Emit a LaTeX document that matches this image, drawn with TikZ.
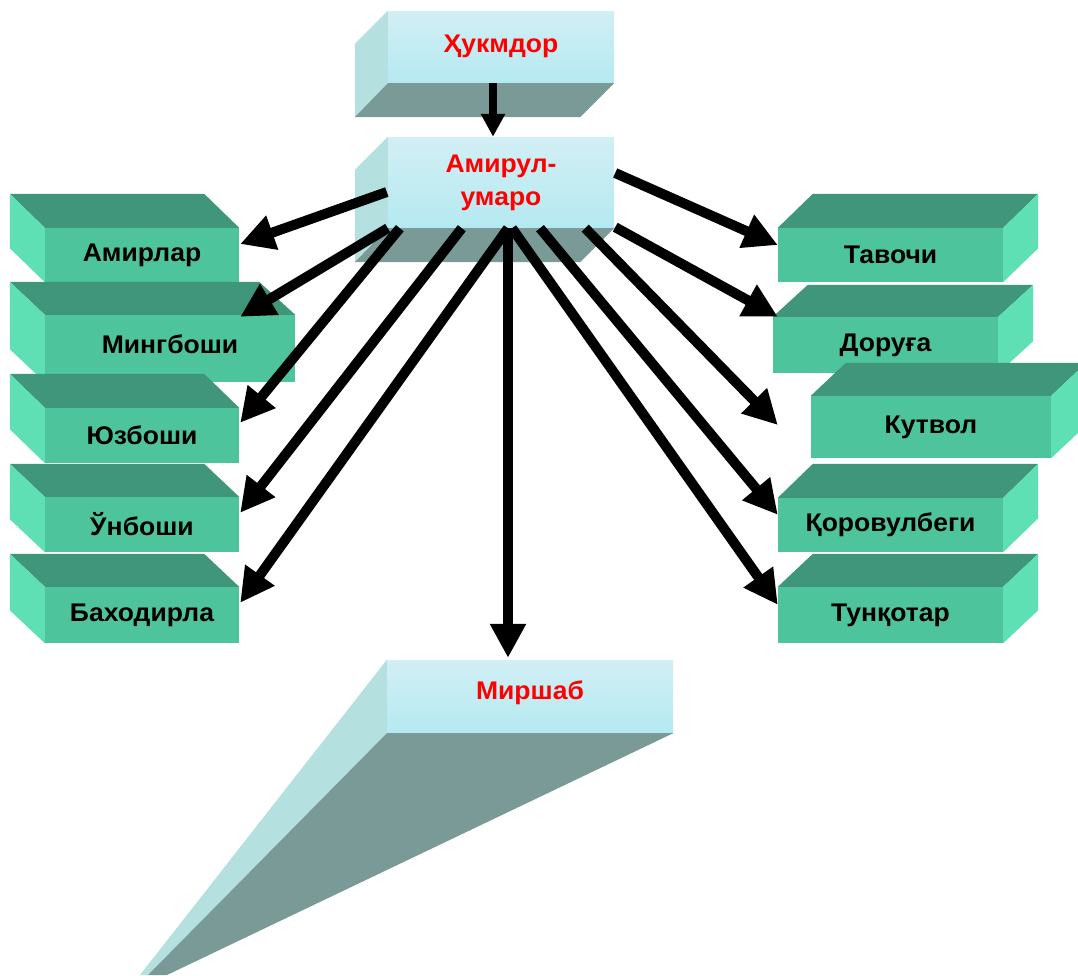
\documentclass[tikz,border=0pt]{standalone}
\usepackage{fontspec}
\setmainfont{Liberation Sans}
\newfontfamily\boxfont[FakeStretch=1.04]{Liberation Sans}
\usetikzlibrary{arrows.meta,calc}
\definecolor{boxfront}{RGB}{78,196,156}
\definecolor{boxtop}{RGB}{63,150,122}
\definecolor{boxside}{RGB}{94,224,180}
\definecolor{icefront}{RGB}{190,232,240}
\definecolor{iceside}{RGB}{180,224,224}
\definecolor{icebottom}{RGB}{122,154,152}

\begin{document}
\begin{tikzpicture}[x=1pt, y=-1pt,
      gbox/.style={fill=boxfront, inner sep=0pt, text=black, font=\boxfont\bfseries\fontsize{25.5}{30}\selectfont},
      ibox/.style={inner sep=0pt, top color=icefront!70!white, bottom color=icefront!95!cyan, text=red, align=center, font=\boxfont\bfseries\fontsize{25.5}{33}\selectfont},
      arr/.style={line width=10pt, -{Triangle[length=34pt, width=34pt]}},
      toparr/.style={line width=8pt, -{Triangle[length=23pt, width=23pt]}}
    ]
      \useasboundingbox (0,0) rectangle (1078,975);

      % Hukmdor
      \node[ibox, minimum width=226pt, minimum height=72pt] (hukm) at (501,47) {\raisebox{7pt}{Ҳукмдор}};
      \fill[iceside] (hukm.north west) -- ++(-33,33) -- ($(hukm.south west)+(-33,34)$) -- (hukm.south west) -- cycle;
      \fill[icebottom] (hukm.south west) -- (hukm.south east) -- ++(-34,34) -- ($(hukm.south west)+(-33,34)$) -- cycle;

      % Amirul-umaro
      \node[ibox, minimum width=226pt, minimum height=91pt] (amirul) at (501,182.5) {Амирул-\\умаро};
      \fill[iceside] (amirul.north west) -- ++(-33,33) -- ($(amirul.south west)+(-33,34)$) -- (amirul.south west) -- cycle;
      \fill[icebottom] (amirul.south west) -- (amirul.south east) -- ++(-34,34) -- ($(amirul.south west)+(-33,34)$) -- cycle;

      % Mirshab
      \node[ibox, minimum width=286pt, minimum height=73pt] (mirshab) at (530,696.5) {\raisebox{12pt}{Миршаб}};
      \fill[iceside] (mirshab.north west) -- (mirshab.south west) -- (148,975) -- (140,975) -- cycle;
      \fill[icebottom] (mirshab.south west) -- (mirshab.south east) -- (167,975) -- (148,975) -- cycle;

      % left column
      \node[gbox, minimum width=194pt, minimum height=54pt] (amirlar) at (142,255) {Амирлар};
      \fill[boxtop] (amirlar.north west) -- ++(-35,-34) -- ($(amirlar.north east)+(-35,-34)$) -- (amirlar.north east) -- cycle;
      \fill[boxside] (amirlar.north west) -- ++(-35,-34) -- ($(amirlar.south west)+(-35,-34)$) -- (amirlar.south west) -- cycle;

      \node[gbox, minimum width=250pt, minimum height=67pt] (mingboshi) at (170,348.5) {\raisebox{8pt}{Мингбоши}};
      \fill[boxtop] (mingboshi.north west) -- ++(-35,-33) -- ($(mingboshi.north east)+(-36,-33)$) -- (mingboshi.north east) -- cycle;
      \fill[boxside] (mingboshi.north west) -- ++(-35,-33) -- ($(mingboshi.south west)+(-35,-33)$) -- (mingboshi.south west) -- cycle;

      \node[gbox, minimum width=194pt, minimum height=55pt] (yuzboshi) at (142,435.5) {Юзбоши};
      \fill[boxtop] (yuzboshi.north west) -- ++(-35,-34) -- ($(yuzboshi.north east)+(-35,-34)$) -- (yuzboshi.north east) -- cycle;
      \fill[boxside] (yuzboshi.north west) -- ++(-35,-34) -- ($(yuzboshi.south west)+(-35,-34)$) -- (yuzboshi.south west) -- cycle;

      \node[gbox, minimum width=194pt, minimum height=55pt] (unboshi) at (142,524.5) {Ўнбоши};
      \fill[boxtop] (unboshi.north west) -- ++(-35,-33) -- ($(unboshi.north east)+(-35,-33)$) -- (unboshi.north east) -- cycle;
      \fill[boxside] (unboshi.north west) -- ++(-35,-33) -- ($(unboshi.south west)+(-35,-33)$) -- (unboshi.south west) -- cycle;

      \node[gbox, minimum width=194pt, minimum height=56pt] (bahodirla) at (142,615) {Баходирла};
      \fill[boxtop] (bahodirla.north west) -- ++(-35,-33) -- ($(bahodirla.north east)+(-35,-33)$) -- (bahodirla.north east) -- cycle;
      \fill[boxside] (bahodirla.north west) -- ++(-35,-33) -- ($(bahodirla.south west)+(-35,-33)$) -- (bahodirla.south west) -- cycle;

      % right column
      \node[gbox, minimum width=225pt, minimum height=54pt] (tavochi) at (890.5,255) {Тавочи};
      \fill[boxtop] (tavochi.north west) -- ++(35,-34) -- ($(tavochi.north east)+(35,-34)$) -- (tavochi.north east) -- cycle;
      \fill[boxside] (tavochi.north east) -- ++(35,-34) -- ($(tavochi.south east)+(35,-34)$) -- (tavochi.south east) -- cycle;

      \node[gbox, minimum width=225pt, minimum height=56pt] (doruga) at (885.5,345) {Доруға};
      \fill[boxtop] (doruga.north west) -- ++(35,-32) -- ($(doruga.north east)+(35,-32)$) -- (doruga.north east) -- cycle;
      \fill[boxside] (doruga.north east) -- ++(35,-32) -- ($(doruga.south east)+(35,-32)$) -- (doruga.south east) -- cycle;

      \node[gbox, minimum width=240pt, minimum height=62pt] (kutvol) at (931,427) {\raisebox{4pt}{Кутвол}};
      \fill[boxtop] (kutvol.north west) -- ++(35,-33) -- ($(kutvol.north east)+(35,-33)$) -- (kutvol.north east) -- cycle;
      \fill[boxside] (kutvol.north east) -- ++(35,-33) -- ($(kutvol.south east)+(35,-33)$) -- (kutvol.south east) -- cycle;

      \node[gbox, minimum width=225pt, minimum height=54pt] (qorovul) at (890.5,525) {Қоровулбеги};
      \fill[boxtop] (qorovul.north west) -- ++(35,-34) -- ($(qorovul.north east)+(35,-34)$) -- (qorovul.north east) -- cycle;
      \fill[boxside] (qorovul.north east) -- ++(35,-34) -- ($(qorovul.south east)+(35,-34)$) -- (qorovul.south east) -- cycle;

      \node[gbox, minimum width=225pt, minimum height=56pt] (tunqotar) at (890.5,615) {Тунқотар};
      \fill[boxtop] (tunqotar.north west) -- ++(35,-33) -- ($(tunqotar.north east)+(35,-33)$) -- (tunqotar.north east) -- cycle;
      \fill[boxside] (tunqotar.north east) -- ++(35,-33) -- ($(tunqotar.south east)+(35,-33)$) -- (tunqotar.south east) -- cycle;

      % arrows
      \draw[toparr] ($(hukm.south)+(-8,0)$) -- ($(amirul.north)+(-8,0)$);

      \draw[arr] ($(amirul.west)+(-1,9.5)$) -- ($(amirlar.east)+(1,-11)$);
      \draw[arr] (amirul.south west) -- ($(mingboshi.north east)+(-55,2)$);
      \draw[arr] ($(amirul.south west)+(12,0)$) -- ($(yuzboshi.north east)+(1,15)$);
      \draw[arr] ($(amirul.south west)+(74,0)$) -- ($(unboshi.north east)+(1,16)$);
      \draw[arr] ($(amirul.south)+(7,0)$) -- ($(bahodirla.north east)+(1,16)$);
      \draw[arr] ($(amirul.south)+(7,0)$) -- ($(mirshab.north)+(-22,-2)$);

      \draw[arr] ($(amirul.east)+(1,-9.5)$) -- ($(tavochi.west)+(0,-10)$);
      \draw[arr] ($(amirul.south east)+(1,-1)$) -- ($(doruga.north west)+(5,0)$);
      \draw[arr] ($(amirul.south east)+(-29,0)$) -- ($(kutvol.west)+(-33,-2)$);
      \draw[arr] ($(amirul.south)+(39,0)$) -- ($(qorovul.north west)+(0,17)$);
      \draw[arr] ($(amirul.south)+(11,0)$) -- ($(tunqotar.north west)+(0,18)$);
    \end{tikzpicture}
\end{document}
